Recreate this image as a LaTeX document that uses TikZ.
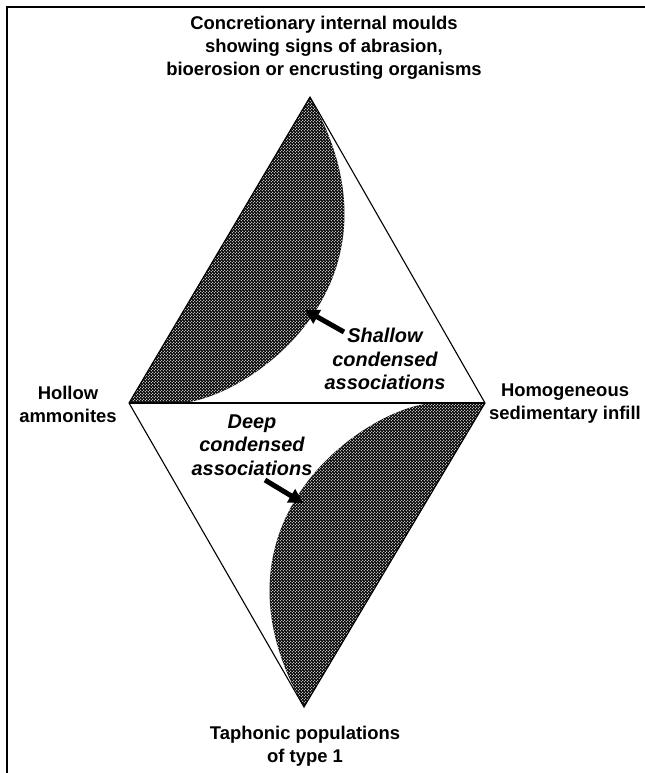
\documentclass[tikz,border=0pt]{standalone}
\usepackage{fontspec}
\setmainfont{Liberation Sans}
\usetikzlibrary{arrows.meta,patterns}
\pgfdeclarepatternformonly{wdots}{\pgfqpoint{0pt}{0pt}}{\pgfqpoint{3pt}{3pt}}{\pgfqpoint{3pt}{3pt}}{%
 \pgfpathcircle{\pgfqpoint{0.75pt}{0.75pt}}{0.55pt}%
 \pgfpathcircle{\pgfqpoint{2.25pt}{2.25pt}}{0.55pt}%
 \pgfusepath{fill}}
\begin{document}
\begin{tikzpicture}[x=1bp,y=-1bp,
 lab/.style={font=\fontsize{18.5}{23}\selectfont\bfseries, align=center, inner sep=0pt},
 ital/.style={font=\fontsize{20}{23.5}\selectfont\bfseries\itshape, align=center, inner sep=0pt},
 edgeline/.style={line width=1.1bp},
 midline/.style={line width=2.2bp},
 shadedarea/.style={fill=black, postaction={pattern=wdots, pattern color=white}},
 pointer/.style={line width=5bp, -{Triangle[length=14bp,width=15bp]}}
]
\useasboundingbox (0,0) rectangle (645,773);
\coordinate (T) at (310,97);
\coordinate (L) at (129,403);
\coordinate (R) at (485,403);
\coordinate (B) at (304,707);
\coordinate (E1) at (178,403);
\coordinate (E2) at (436,403);
% frame
\draw[line width=1.8bp] (7,773) -- (7,7) -- (645,7);
% shaded areas
\path[shadedarea] (T) -- (L) -- (E1) .. controls (240,403) and (419,288) .. (T) -- cycle;
\path[shadedarea] (B) -- (R) -- (E2) .. controls (374,403) and (195,517) .. (B) -- cycle;
% diamond
\draw[edgeline] (T) -- (L) -- (B) -- (R) -- cycle;
\draw[midline] (L) -- (R);
% labels
\node[lab] (top) at (324,48) {Concretionary internal moulds\\showing signs of abrasion,\\bioerosion or encrusting organisms};
\node[lab] (left) at (68,404.5) {Hollow\\ammonites};
\node[lab] (right) at (565,404) {Homogeneous\\sedimentary infill};
\node[lab] (bot) at (305,746) {Taphonic populations\\of type 1};
\node[ital] (sh) at (385,359) {Shallow\\condensed\\associations};
\node[ital] (dp) at (252,445) {Deep\\condensed\\associations};
% arrows
\coordinate (a1s) at (344,332);
\coordinate (a1e) at (305,310);
\coordinate (a2s) at (265,480);
\coordinate (a2e) at (303,503);
\draw[pointer] (a1s) -- (a1e);
\draw[pointer] (a2s) -- (a2e);
\end{tikzpicture}
\end{document}
